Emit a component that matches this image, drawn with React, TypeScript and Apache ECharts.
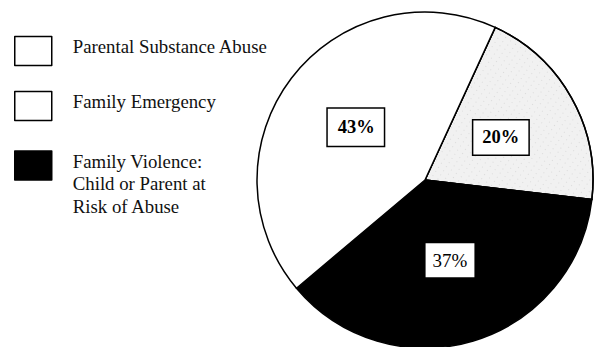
import React, { useEffect, useRef } from 'react';
import * as echarts from 'echarts';

// ---- data ----
const categories = [
  'Family Emergency',
  'Family Violence: Child or Parent at Risk of Abuse',
  'Parental Substance Abuse',
];
const values = [20, 37, 43];
const legendOrder = [
  'Parental Substance Abuse',
  'Family Emergency',
  'Family Violence: Child or Parent at Risk of Abuse',
];
const legendLines = [
  ['Parental Substance Abuse'],
  ['Family Emergency'],
  ['Family Violence:', 'Child or Parent at', 'Risk of Abuse'],
];

const FONT = '"Liberation Serif", "Times New Roman", serif';

export default function App() {
  const ref = useRef<HTMLDivElement>(null);

  useEffect(() => {
    if (!ref.current) return;
    const chart = echarts.init(ref.current, null, { renderer: 'svg' });

    const sliceStyles: any[] = [
      {
        color: '#f1f1f1',
        decal: {
          symbol: 'rect',
          symbolSize: 0.6,
          color: 'rgba(0,0,0,0.3)',
          dashArrayX: [1, 5],
          dashArrayY: [1, 4],
          rotation: 0.6,
        },
      },
      { color: '#000000' },
      { color: '#ffffff' },
    ];
    const labelStyles: any[] = [
      { fontWeight: 'bold', fontSize: 18.5, padding: [8, 9, 7, 9] },
      { fontWeight: 'normal', fontSize: 19, padding: [8, 7, 7, 7], offset: [0, -3] },
      { fontWeight: 'bold', fontSize: 18.5, padding: [9, 9, 9, 10] },
    ];

    const legendTops = [35.75, 90.75, 130.75];
    const legendItemColors = ['#ffffff', '#ffffff', '#000000'];

    const makeLegendText = (i: number) => {
      const lines = legendLines[i].map((l) => `{t|${l}}`);
      if (i === 2) return ['{s| }', ...lines].join('\n');
      return [...lines, '{b| }'].join('\n');
    };

    const option: any = {
      animation: false,
      backgroundColor: '#ffffff',
      legend: legendOrder.map((name, i) => ({
        data: [
          {
            name,
            itemStyle: {
              color: legendItemColors[i],
              borderColor: '#000',
              borderWidth: 1.5,
              decal: 'none',
            },
          },
        ],
        orient: 'vertical',
        left: 14,
        top: legendTops[i],
        padding: 0,
        icon: 'rect',
        itemWidth: 37,
        itemHeight: 29,
        selectedMode: false,
        formatter: () => makeLegendText(i),
        textStyle: {
          fontFamily: FONT,
          fontSize: 18.8,
          color: '#111',
          padding: [0, 0, 0, 16],
          rich: {
            t: {
              fontFamily: FONT,
              fontSize: 18.8,
              color: '#111',
              lineHeight: 22.5,
            },
            s: { fontSize: 2, lineHeight: 36 },
            b: { fontSize: 2, lineHeight: 9 },
          },
        },
      })),
      series: [
        {
          type: 'pie',
          center: [425, 180],
          radius: 168,
          startAngle: 65.3,
          clockwise: true,
          avoidLabelOverlap: false,
          emphasis: { disabled: true },
          labelLine: { show: false },
          itemStyle: { borderColor: '#000', borderWidth: 1.5 },
          label: {
            show: true,
            position: 'inside',
            formatter: '{d}%',
            fontFamily: FONT,
            color: '#000',
            backgroundColor: '#fff',
            borderColor: '#000',
            borderWidth: 1.5,
          },
          data: categories.map((name, i) => ({
            name,
            value: values[i],
            itemStyle: sliceStyles[i],
            label: labelStyles[i],
          })),
        },
      ],
    };

    chart.setOption(option);
    return () => chart.dispose();
  }, []);

  return (
    <div
      ref={ref}
      style={{ position: 'fixed', left: 0, top: 0, width: 596, height: 347 }}
    />
  );
}
